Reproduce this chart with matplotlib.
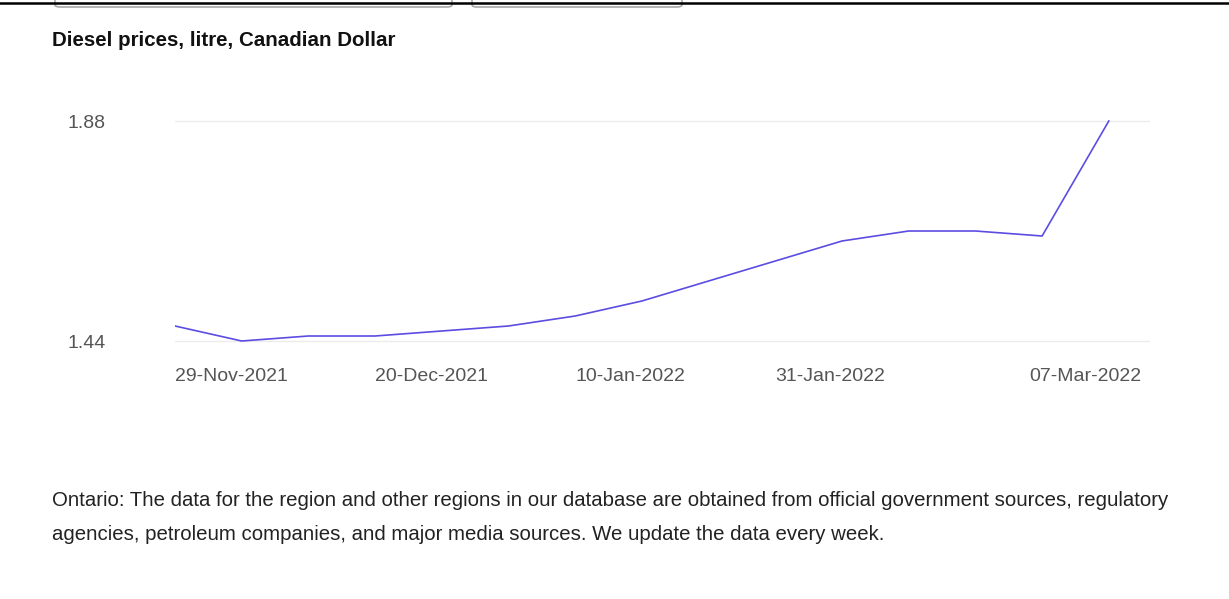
import matplotlib
matplotlib.use("Agg")
import matplotlib.pyplot as plt
from matplotlib.patches import FancyBboxPatch
from matplotlib.transforms import ScaledTranslation

plt.rcParams['font.family'] = ['Liberation Sans', 'DejaVu Sans']

# Weekly diesel prices, Ontario (CAD per litre)
weeks = ['29-Nov-2021', '06-Dec-2021', '13-Dec-2021', '20-Dec-2021', '27-Dec-2021',
         '03-Jan-2022', '10-Jan-2022', '17-Jan-2022', '24-Jan-2022', '31-Jan-2022',
         '07-Feb-2022', '14-Feb-2022', '21-Feb-2022', '28-Feb-2022', '07-Mar-2022']
prices = [1.47, 1.44, 1.45, 1.45, 1.46, 1.47, 1.49, 1.52, 1.56, 1.60,
          1.64, 1.66, 1.66, 1.65, 1.88]
shown_weeks = ['29-Nov-2021', '20-Dec-2021', '10-Jan-2022', '31-Jan-2022', '07-Mar-2022']
y_ticks = [1.44, 1.88]

W, H = 1229, 599
fig = plt.figure(figsize=(W / 100, H / 100), dpi=100)
fig.patch.set_facecolor('white')

# axes placed in pixel terms
left, right, top, bottom = 175, 1150, 111, 351
ax = fig.add_axes([left / W, 1 - bottom / H, (right - left) / W, (bottom - top) / H])

x = list(range(len(weeks)))
ax.plot(x, prices, color='#5b4de2', linewidth=1.2, solid_joinstyle='round')

ax.set_xlim(0, (right - left) / 66.7)
ax.set_ylim(1.42, 1.90)
ax.set_yticks(y_ticks)
ax.set_yticklabels([f'{v:.2f}' for v in y_ticks])
ax.grid(axis='y', color='#ececec', linewidth=1.0)
ax.set_axisbelow(True)
for s in ax.spines.values():
    s.set_visible(False)

ax.set_xticks([weeks.index(w) for w in shown_weeks])
ax.set_xticklabels(shown_weeks)
ax.tick_params(axis='both', length=0, labelsize=14, labelcolor='#555555')
ax.tick_params(axis='y', pad=50)
ax.tick_params(axis='x', pad=12)
labels = ax.get_xticklabels()
for lab in labels[:-1]:
    lab.set_ha('left')
labels[-1].set_transform(labels[-1].get_transform() +
                         ScaledTranslation(-0.23, 0, fig.dpi_scale_trans))

# title and note
fig.text(52 / W, 1 - 41 / H, 'Diesel prices, litre, Canadian Dollar',
         fontsize=14.8, fontweight='bold', color='#111111', va='center')
fig.text(52 / W, 1 - 501 / H,
         'Ontario: The data for the region and other regions in our database are obtained '
         'from official government sources, regulatory',
         fontsize=14.7, color='#222222', va='center')
fig.text(52 / W, 1 - 534 / H,
         'agencies, petroleum companies, and major media sources. We update the data every week.',
         fontsize=14.7, color='#222222', va='center')

# page chrome at the top: dark rule and two tabs
for x0, x1 in [(55, 452), (472, 682)]:
    fig.patches.append(FancyBboxPatch((x0 / W, 1 - 7 / H), (x1 - x0) / W, 20 / H,
                                      boxstyle='round,pad=0,rounding_size=0.004',
                                      transform=fig.transFigure, facecolor='white',
                                      edgecolor='#a8a8a8', linewidth=1.2))
fig.add_artist(plt.Line2D([0, 1], [1 - 3 / H, 1 - 3 / H], transform=fig.transFigure,
                          color='black', linewidth=1.8))

fig.savefig('out.png', dpi=100)
